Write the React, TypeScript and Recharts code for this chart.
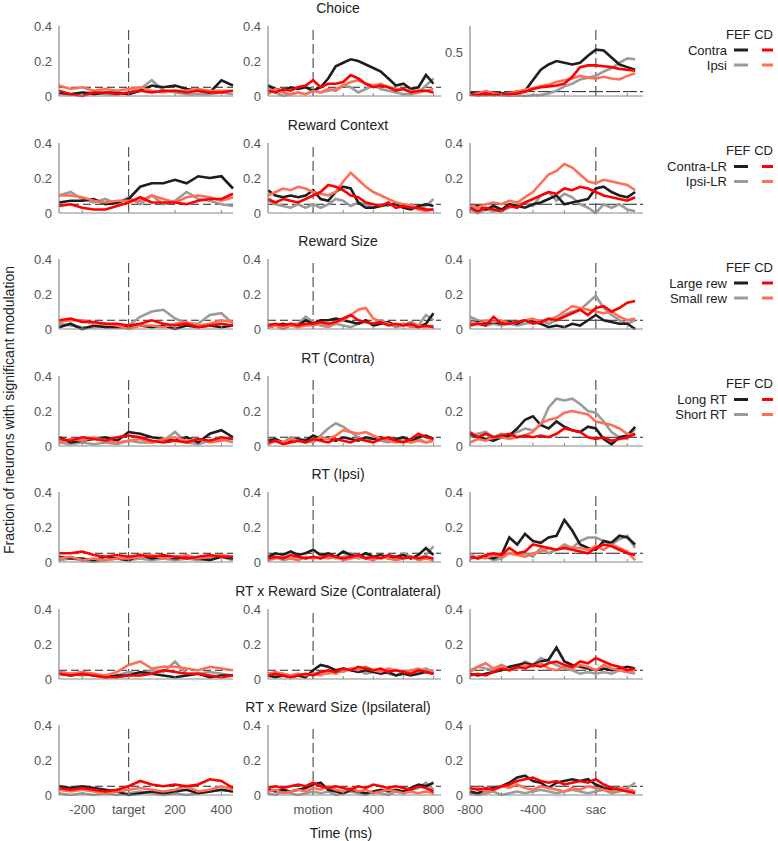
import React from 'react';
import { LineChart, Line, XAxis, YAxis, ReferenceLine } from 'recharts';

// ---------- time grids (ms) ----------
const T_TARGET = [-300, -250, -200, -150, -100, -50, 0, 50, 100, 150, 200, 250, 300, 350, 400, 450];
const T_MOTION = [-300, -250, -200, -150, -100, -50, 0, 50, 100, 150, 200, 250, 300, 350, 400, 450, 500, 550, 600, 650, 700, 750, 800];
const T_SAC = [-800, -750, -700, -650, -600, -550, -500, -450, -400, -350, -300, -250, -200, -150, -100, -50, 0, 50, 100, 150, 200, 250];

const ROW_TITLES = ['Choice', 'Reward Context', 'Reward Size', 'RT (Contra)', 'RT (Ipsi)', 'RT x Reward Size (Contralateral)', 'RT x Reward Size (Ipsilateral)'];
const LEGEND_LABELS = [['Contra', 'Ipsi'], ['Contra-LR', 'Ipsi-LR'], ['Large rew', 'Small rew'], ['Long RT', 'Short RT']];
const TICKS_TARGET = [-200, 0, 200, 400];
const TICKS_MOTION = [0, 200, 400, 600, 800];
const TICKS_SAC = [-800, -600, -400, -200, 0, 200];

// ---------- Choice ----------
const choiceTgtFefA = [0.02, 0.01, 0.02, 0.01, 0.02, 0.02, 0.01, 0.03, 0.06, 0.05, 0.06, 0.04, 0.03, 0.02, 0.09, 0.06];
const choiceTgtFefB = [0.01, 0.01, 0.02, 0.02, 0.01, 0.01, 0.02, 0.04, 0.09, 0.03, 0.02, 0.01, 0.01, 0.01, 0.02, 0.01];
const choiceTgtCdA = [0.03, 0.01, 0.0, 0.02, 0.02, 0.01, 0.02, 0.03, 0.02, 0.03, 0.03, 0.02, 0.03, 0.02, 0.02, 0.03];
const choiceTgtCdB = [0.06, 0.04, 0.05, 0.03, 0.04, 0.03, 0.04, 0.05, 0.03, 0.02, 0.03, 0.03, 0.04, 0.03, 0.03, 0.03];
const choiceMotFefA = [0.06, 0.04, 0.03, 0.05, 0.04, 0.05, 0.03, 0.05, 0.1, 0.17, 0.19, 0.21, 0.2, 0.18, 0.16, 0.14, 0.1, 0.06, 0.07, 0.04, 0.05, 0.12, 0.07];
const choiceMotFefB = [0.05, 0.02, 0.0, 0.01, 0.02, 0.01, 0.03, 0.02, 0.03, 0.04, 0.06, 0.05, 0.02, 0.04, 0.06, 0.04, 0.03, 0.02, 0.01, 0.01, 0.02, 0.06, 0.1];
const choiceMotCdA = [0.03, 0.02, 0.04, 0.03, 0.05, 0.06, 0.09, 0.05, 0.07, 0.07, 0.08, 0.12, 0.1, 0.07, 0.05, 0.06, 0.05, 0.03, 0.04, 0.02, 0.03, 0.03, 0.02];
const choiceMotCdB = [0.01, 0.04, 0.02, 0.01, 0.02, 0.01, 0.03, 0.02, 0.04, 0.03, 0.06, 0.08, 0.09, 0.07, 0.06, 0.07, 0.05, 0.04, 0.04, 0.03, 0.02, 0.03, 0.04];
const choiceSacFefA = [0.03, 0.03, 0.02, 0.03, 0.03, 0.03, 0.05, 0.06, 0.18, 0.3, 0.36, 0.4, 0.38, 0.36, 0.38, 0.46, 0.53, 0.52, 0.44, 0.36, 0.33, 0.3];
const choiceSacFefB = [0.02, 0.01, 0.01, 0.02, 0.01, 0.0, 0.01, 0.0, 0.01, 0.01, 0.03, 0.06, 0.11, 0.14, 0.19, 0.21, 0.23, 0.28, 0.32, 0.38, 0.43, 0.42];
const choiceSacCdA = [0.02, 0.01, 0.03, 0.01, 0.02, 0.02, 0.03, 0.05, 0.08, 0.1, 0.11, 0.12, 0.14, 0.22, 0.33, 0.35, 0.35, 0.34, 0.33, 0.31, 0.3, 0.29];
const choiceSacCdB = [0.01, 0.03, 0.06, 0.03, 0.02, 0.03, 0.05, 0.07, 0.09, 0.11, 0.13, 0.16, 0.18, 0.2, 0.23, 0.21, 0.2, 0.22, 0.2, 0.19, 0.23, 0.26];

// ---------- Reward Context ----------
const contextTgtFefA = [0.06, 0.07, 0.07, 0.08, 0.05, 0.06, 0.08, 0.15, 0.17, 0.17, 0.19, 0.17, 0.21, 0.2, 0.21, 0.14];
const contextTgtFefB = [0.1, 0.12, 0.08, 0.06, 0.08, 0.05, 0.09, 0.05, 0.1, 0.05, 0.07, 0.12, 0.08, 0.07, 0.05, 0.04];
const contextTgtCdA = [0.04, 0.05, 0.03, 0.02, 0.02, 0.04, 0.06, 0.09, 0.06, 0.06, 0.06, 0.05, 0.07, 0.08, 0.08, 0.11];
const contextTgtCdB = [0.1, 0.1, 0.09, 0.07, 0.06, 0.07, 0.07, 0.07, 0.1, 0.08, 0.06, 0.09, 0.1, 0.09, 0.07, 0.09];
const contextMotFefA = [0.13, 0.1, 0.09, 0.1, 0.09, 0.1, 0.13, 0.08, 0.07, 0.12, 0.15, 0.14, 0.06, 0.03, 0.03, 0.04, 0.05, 0.05, 0.03, 0.02, 0.04, 0.05, 0.04];
const contextMotFefB = [0.07, 0.05, 0.04, 0.03, 0.05, 0.03, 0.05, 0.03, 0.05, 0.08, 0.07, 0.04, 0.06, 0.05, 0.03, 0.05, 0.04, 0.06, 0.03, 0.05, 0.02, 0.04, 0.08];
const contextMotCdA = [0.08, 0.06, 0.08, 0.07, 0.06, 0.08, 0.1, 0.12, 0.16, 0.15, 0.13, 0.1, 0.09, 0.06, 0.05, 0.04, 0.06, 0.03, 0.04, 0.03, 0.03, 0.02, 0.02];
const contextMotCdB = [0.1, 0.12, 0.14, 0.13, 0.15, 0.14, 0.12, 0.11, 0.1, 0.12, 0.18, 0.23, 0.19, 0.15, 0.12, 0.1, 0.08, 0.06, 0.05, 0.04, 0.02, 0.01, 0.02];
const contextSacFefA = [0.03, 0.04, 0.02, 0.04, 0.02, 0.05, 0.04, 0.03, 0.05, 0.06, 0.08, 0.1, 0.05, 0.06, 0.07, 0.08, 0.14, 0.15, 0.12, 0.1, 0.09, 0.12];
const contextSacFefB = [0.02, 0.0, 0.02, 0.01, 0.02, 0.03, 0.05, 0.06, 0.04, 0.1, 0.12, 0.07, 0.11, 0.09, 0.05, 0.03, 0.0, 0.05, 0.03, 0.05, 0.02, 0.01];
const contextSacCdA = [0.03, 0.01, 0.03, 0.02, 0.01, 0.04, 0.03, 0.06, 0.08, 0.1, 0.12, 0.11, 0.14, 0.13, 0.15, 0.14, 0.12, 0.1, 0.09, 0.08, 0.07, 0.09];
const contextSacCdB = [0.04, 0.03, 0.05, 0.06, 0.05, 0.07, 0.06, 0.09, 0.12, 0.17, 0.22, 0.24, 0.28, 0.26, 0.22, 0.18, 0.17, 0.19, 0.18, 0.17, 0.16, 0.13];

// ---------- Reward Size ----------
const sizeTgtFefA = [0.01, 0.03, 0.0, 0.02, 0.01, 0.01, 0.01, 0.02, 0.01, 0.02, 0.0, 0.02, 0.01, 0.02, 0.01, 0.02];
const sizeTgtFefB = [0.03, 0.02, 0.01, 0.01, 0.02, 0.02, 0.02, 0.07, 0.1, 0.11, 0.06, 0.03, 0.03, 0.08, 0.09, 0.03];
const sizeTgtCdA = [0.05, 0.06, 0.04, 0.04, 0.03, 0.03, 0.02, 0.03, 0.05, 0.03, 0.02, 0.03, 0.01, 0.02, 0.03, 0.02];
const sizeTgtCdB = [0.04, 0.05, 0.05, 0.03, 0.03, 0.02, 0.0, 0.02, 0.02, 0.01, 0.03, 0.04, 0.02, 0.03, 0.05, 0.04];
const sizeMotFefA = [0.01, 0.02, 0.03, 0.02, 0.02, 0.05, 0.03, 0.05, 0.05, 0.06, 0.05, 0.04, 0.03, 0.05, 0.02, 0.03, 0.04, 0.02, 0.03, 0.02, 0.01, 0.03, 0.09];
const sizeMotFefB = [0.03, 0.02, 0.02, 0.03, 0.03, 0.07, 0.04, 0.02, 0.01, 0.03, 0.02, 0.01, 0.03, 0.04, 0.03, 0.05, 0.03, 0.01, 0.02, 0.04, 0.02, 0.08, 0.05];
const sizeMotCdA = [0.02, 0.03, 0.02, 0.03, 0.02, 0.03, 0.03, 0.04, 0.03, 0.04, 0.06, 0.08, 0.05, 0.04, 0.03, 0.04, 0.02, 0.03, 0.02, 0.03, 0.01, 0.02, 0.01];
const sizeMotCdB = [0.01, 0.02, 0.0, 0.02, 0.01, 0.02, 0.02, 0.03, 0.02, 0.04, 0.05, 0.08, 0.11, 0.12, 0.06, 0.04, 0.03, 0.02, 0.03, 0.01, 0.02, 0.01, 0.02];
const sizeSacFefA = [0.03, 0.04, 0.03, 0.04, 0.03, 0.04, 0.03, 0.05, 0.04, 0.03, 0.01, 0.02, 0.01, 0.03, 0.02, 0.05, 0.08, 0.05, 0.04, 0.03, 0.03, 0.0];
const sizeSacFefB = [0.07, 0.05, 0.02, 0.03, 0.02, 0.03, 0.02, 0.03, 0.04, 0.05, 0.03, 0.05, 0.08, 0.1, 0.11, 0.15, 0.19, 0.12, 0.08, 0.05, 0.03, 0.05];
const sizeSacCdA = [0.02, 0.03, 0.02, 0.07, 0.03, 0.03, 0.04, 0.05, 0.03, 0.04, 0.06, 0.05, 0.07, 0.09, 0.11, 0.08, 0.12, 0.13, 0.1, 0.12, 0.15, 0.16];
const sizeSacCdB = [0.04, 0.03, 0.05, 0.04, 0.05, 0.03, 0.04, 0.05, 0.06, 0.04, 0.05, 0.07, 0.1, 0.13, 0.12, 0.11, 0.1, 0.09, 0.1, 0.07, 0.05, 0.06];

// ---------- RT (Contra) ----------
const rtContraTgtFefA = [0.05, 0.02, 0.03, 0.04, 0.05, 0.03, 0.08, 0.07, 0.05, 0.04, 0.03, 0.05, 0.02, 0.07, 0.09, 0.05];
const rtContraTgtFefB = [0.02, 0.01, 0.02, 0.01, 0.02, 0.01, 0.03, 0.02, 0.02, 0.03, 0.08, 0.02, 0.01, 0.03, 0.04, 0.02];
const rtContraTgtCdA = [0.04, 0.03, 0.05, 0.04, 0.03, 0.05, 0.06, 0.05, 0.03, 0.02, 0.03, 0.02, 0.04, 0.03, 0.05, 0.04];
const rtContraTgtCdB = [0.02, 0.04, 0.03, 0.05, 0.03, 0.02, 0.03, 0.04, 0.02, 0.04, 0.05, 0.03, 0.04, 0.02, 0.03, 0.04];
const rtContraMotFefA = [0.03, 0.04, 0.02, 0.03, 0.04, 0.03, 0.06, 0.04, 0.05, 0.03, 0.05, 0.04, 0.03, 0.05, 0.04, 0.05, 0.03, 0.04, 0.05, 0.03, 0.05, 0.06, 0.04];
const rtContraMotFefB = [0.04, 0.03, 0.02, 0.05, 0.03, 0.04, 0.02, 0.06, 0.1, 0.13, 0.11, 0.08, 0.05, 0.03, 0.04, 0.03, 0.02, 0.04, 0.03, 0.02, 0.04, 0.02, 0.03];
const rtContraMotCdA = [0.02, 0.03, 0.01, 0.02, 0.03, 0.02, 0.04, 0.03, 0.02, 0.04, 0.03, 0.02, 0.04, 0.03, 0.02, 0.04, 0.05, 0.03, 0.02, 0.04, 0.07, 0.05, 0.04];
const rtContraMotCdB = [0.01, 0.03, 0.02, 0.04, 0.03, 0.02, 0.03, 0.05, 0.04, 0.06, 0.09, 0.08, 0.07, 0.08, 0.06, 0.04, 0.03, 0.02, 0.03, 0.02, 0.03, 0.02, 0.03];
const rtContraSacFefA = [0.07, 0.05, 0.04, 0.03, 0.05, 0.06, 0.1, 0.15, 0.17, 0.12, 0.1, 0.14, 0.11, 0.09, 0.08, 0.11, 0.1, 0.04, 0.01, 0.05, 0.06, 0.11];
const rtContraSacFefB = [0.05, 0.07, 0.08, 0.05, 0.07, 0.05, 0.08, 0.1, 0.09, 0.12, 0.22, 0.27, 0.26, 0.27, 0.24, 0.2, 0.19, 0.14, 0.08, 0.05, 0.04, 0.1];
const rtContraSacCdA = [0.08, 0.05, 0.07, 0.05, 0.06, 0.07, 0.05, 0.06, 0.05, 0.06, 0.05, 0.07, 0.1, 0.09, 0.08, 0.05, 0.04, 0.05, 0.03, 0.04, 0.05, 0.07];
const rtContraSacCdB = [0.02, 0.04, 0.03, 0.05, 0.05, 0.04, 0.05, 0.06, 0.08, 0.13, 0.15, 0.16, 0.19, 0.2, 0.19, 0.18, 0.14, 0.13, 0.12, 0.1, 0.07, 0.06];

// ---------- RT (Ipsi) ----------
const rtIpsiTgtFefA = [0.03, 0.02, 0.02, 0.01, 0.03, 0.02, 0.01, 0.04, 0.02, 0.03, 0.02, 0.03, 0.02, 0.01, 0.03, 0.02];
const rtIpsiTgtFefB = [0.01, 0.02, 0.01, 0.0, 0.01, 0.02, 0.01, 0.02, 0.01, 0.02, 0.01, 0.02, 0.01, 0.02, 0.03, 0.01];
const rtIpsiTgtCdA = [0.05, 0.05, 0.06, 0.04, 0.03, 0.04, 0.03, 0.04, 0.03, 0.04, 0.03, 0.02, 0.03, 0.04, 0.03, 0.03];
const rtIpsiTgtCdB = [0.02, 0.03, 0.01, 0.02, 0.01, 0.02, 0.02, 0.03, 0.04, 0.02, 0.03, 0.04, 0.02, 0.03, 0.04, 0.03];
const rtIpsiMotFefA = [0.03, 0.05, 0.04, 0.06, 0.04, 0.05, 0.07, 0.04, 0.05, 0.03, 0.06, 0.04, 0.03, 0.05, 0.03, 0.04, 0.02, 0.03, 0.04, 0.02, 0.04, 0.08, 0.04];
const rtIpsiMotFefB = [0.02, 0.03, 0.01, 0.02, 0.03, 0.02, 0.03, 0.02, 0.04, 0.02, 0.03, 0.05, 0.02, 0.03, 0.02, 0.04, 0.03, 0.02, 0.05, 0.03, 0.02, 0.04, 0.09];
const rtIpsiMotCdA = [0.02, 0.03, 0.02, 0.04, 0.03, 0.02, 0.03, 0.02, 0.04, 0.03, 0.02, 0.03, 0.04, 0.02, 0.03, 0.02, 0.04, 0.03, 0.02, 0.03, 0.02, 0.03, 0.02];
const rtIpsiMotCdB = [0.01, 0.02, 0.03, 0.02, 0.01, 0.03, 0.02, 0.03, 0.02, 0.03, 0.01, 0.02, 0.03, 0.02, 0.01, 0.03, 0.02, 0.01, 0.02, 0.03, 0.01, 0.02, 0.01];
const rtIpsiSacFefA = [0.02, 0.03, 0.03, 0.02, 0.04, 0.14, 0.1, 0.16, 0.12, 0.11, 0.14, 0.15, 0.24, 0.18, 0.1, 0.08, 0.07, 0.12, 0.11, 0.15, 0.14, 0.1];
const rtIpsiSacFefB = [0.05, 0.02, 0.03, 0.01, 0.02, 0.05, 0.04, 0.05, 0.03, 0.08, 0.05, 0.07, 0.1, 0.08, 0.12, 0.14, 0.14, 0.12, 0.1, 0.13, 0.15, 0.08];
const rtIpsiSacCdA = [0.03, 0.02, 0.04, 0.05, 0.04, 0.08, 0.05, 0.06, 0.1, 0.09, 0.08, 0.07, 0.08, 0.07, 0.06, 0.05, 0.08, 0.1, 0.09, 0.07, 0.05, 0.04];
const rtIpsiSacCdB = [0.02, 0.03, 0.02, 0.04, 0.03, 0.05, 0.04, 0.03, 0.05, 0.06, 0.08, 0.07, 0.09, 0.08, 0.08, 0.07, 0.09, 0.07, 0.1, 0.08, 0.06, 0.01];

// ---------- RT x Reward Size (Contralateral) ----------
const rtxContraTgtFefA = [0.03, 0.02, 0.03, 0.02, 0.01, 0.02, 0.02, 0.04, 0.03, 0.02, 0.01, 0.02, 0.03, 0.01, 0.02, 0.02];
const rtxContraTgtFefB = [0.04, 0.03, 0.02, 0.03, 0.01, 0.02, 0.04, 0.03, 0.05, 0.04, 0.1, 0.03, 0.03, 0.04, 0.03, 0.02];
const rtxContraTgtCdA = [0.03, 0.02, 0.03, 0.02, 0.01, 0.01, 0.02, 0.02, 0.03, 0.05, 0.04, 0.03, 0.03, 0.02, 0.01, 0.02];
const rtxContraTgtCdB = [0.04, 0.03, 0.04, 0.03, 0.02, 0.04, 0.08, 0.1, 0.06, 0.07, 0.07, 0.06, 0.05, 0.07, 0.06, 0.05];
const rtxContraMotFefA = [0.02, 0.01, 0.02, 0.01, 0.02, 0.01, 0.05, 0.08, 0.07, 0.05, 0.06, 0.05, 0.04, 0.05, 0.04, 0.03, 0.04, 0.02, 0.03, 0.02, 0.03, 0.04, 0.03];
const rtxContraMotFefB = [0.03, 0.02, 0.03, 0.02, 0.03, 0.02, 0.03, 0.04, 0.03, 0.05, 0.04, 0.06, 0.05, 0.03, 0.04, 0.05, 0.03, 0.02, 0.04, 0.03, 0.05, 0.06, 0.04];
const rtxContraMotCdA = [0.02, 0.03, 0.02, 0.01, 0.02, 0.03, 0.02, 0.04, 0.05, 0.04, 0.06, 0.05, 0.07, 0.06, 0.05, 0.06, 0.04, 0.05, 0.04, 0.03, 0.05, 0.04, 0.03];
const rtxContraMotCdB = [0.03, 0.04, 0.03, 0.02, 0.03, 0.02, 0.03, 0.02, 0.04, 0.03, 0.05, 0.06, 0.05, 0.07, 0.05, 0.04, 0.06, 0.05, 0.04, 0.05, 0.06, 0.04, 0.05];
const rtxContraSacFefA = [0.03, 0.02, 0.03, 0.04, 0.05, 0.07, 0.08, 0.09, 0.08, 0.1, 0.11, 0.18, 0.1, 0.08, 0.07, 0.06, 0.05, 0.06, 0.05, 0.06, 0.07, 0.06];
const rtxContraSacFefB = [0.05, 0.07, 0.06, 0.05, 0.08, 0.06, 0.07, 0.1, 0.08, 0.12, 0.1, 0.08, 0.06, 0.05, 0.03, 0.04, 0.03, 0.04, 0.03, 0.05, 0.04, 0.03];
const rtxContraSacCdA = [0.02, 0.03, 0.02, 0.04, 0.06, 0.05, 0.07, 0.06, 0.08, 0.07, 0.09, 0.1, 0.08, 0.07, 0.1, 0.09, 0.12, 0.1, 0.08, 0.07, 0.05, 0.06];
const rtxContraSacCdB = [0.04, 0.07, 0.09, 0.06, 0.08, 0.05, 0.06, 0.08, 0.07, 0.09, 0.06, 0.05, 0.07, 0.06, 0.08, 0.07, 0.05, 0.08, 0.06, 0.05, 0.04, 0.05];

// ---------- RT x Reward Size (Ipsilateral) ----------
const rtxIpsiTgtFefA = [0.05, 0.04, 0.05, 0.04, 0.03, 0.02, 0.0, 0.01, 0.02, 0.01, 0.02, 0.03, 0.01, 0.02, 0.03, 0.02];
const rtxIpsiTgtFefB = [0.01, 0.0, 0.01, 0.0, 0.01, 0.0, 0.01, 0.02, 0.01, 0.0, 0.01, 0.0, 0.01, 0.02, 0.03, 0.02];
const rtxIpsiTgtCdA = [0.04, 0.03, 0.04, 0.03, 0.02, 0.03, 0.05, 0.08, 0.06, 0.05, 0.06, 0.05, 0.06, 0.09, 0.08, 0.04];
const rtxIpsiTgtCdB = [0.03, 0.02, 0.03, 0.02, 0.01, 0.02, 0.03, 0.04, 0.03, 0.02, 0.03, 0.05, 0.02, 0.03, 0.05, 0.03];
const rtxIpsiMotFefA = [0.03, 0.02, 0.03, 0.02, 0.03, 0.04, 0.06, 0.07, 0.03, 0.02, 0.01, 0.03, 0.02, 0.01, 0.02, 0.03, 0.02, 0.03, 0.02, 0.04, 0.06, 0.05, 0.07];
const rtxIpsiMotFefB = [0.01, 0.0, 0.02, 0.01, 0.0, 0.01, 0.02, 0.01, 0.02, 0.0, 0.01, 0.02, 0.01, 0.0, 0.02, 0.01, 0.0, 0.02, 0.01, 0.03, 0.04, 0.07, 0.03];
const rtxIpsiMotCdA = [0.04, 0.05, 0.04, 0.05, 0.06, 0.05, 0.07, 0.05, 0.04, 0.05, 0.04, 0.03, 0.05, 0.04, 0.06, 0.05, 0.04, 0.05, 0.04, 0.03, 0.05, 0.04, 0.02];
const rtxIpsiMotCdB = [0.02, 0.03, 0.01, 0.02, 0.03, 0.02, 0.04, 0.03, 0.05, 0.03, 0.02, 0.04, 0.02, 0.03, 0.01, 0.02, 0.03, 0.02, 0.01, 0.02, 0.01, 0.02, 0.01];
const rtxIpsiSacFefA = [0.02, 0.01, 0.03, 0.04, 0.05, 0.07, 0.1, 0.11, 0.08, 0.07, 0.04, 0.07, 0.08, 0.09, 0.08, 0.09, 0.06, 0.04, 0.03, 0.04, 0.03, 0.02];
const rtxIpsiSacFefB = [0.01, 0.0, 0.01, 0.02, 0.0, 0.01, 0.02, 0.01, 0.02, 0.03, 0.02, 0.01, 0.02, 0.03, 0.02, 0.01, 0.02, 0.03, 0.01, 0.02, 0.04, 0.07];
const rtxIpsiSacCdA = [0.04, 0.03, 0.04, 0.03, 0.05, 0.06, 0.08, 0.09, 0.1, 0.08, 0.07, 0.08, 0.06, 0.07, 0.08, 0.07, 0.09, 0.06, 0.04, 0.03, 0.02, 0.01];
const rtxIpsiSacCdB = [0.03, 0.04, 0.02, 0.03, 0.05, 0.04, 0.06, 0.04, 0.03, 0.05, 0.04, 0.03, 0.02, 0.04, 0.03, 0.05, 0.04, 0.03, 0.02, 0.04, 0.03, 0.02];

// series per row -> per column -> [FEF A, FEF B, CD A, CD B]
const ROWS = [
  [[choiceTgtFefA, choiceTgtFefB, choiceTgtCdA, choiceTgtCdB], [choiceMotFefA, choiceMotFefB, choiceMotCdA, choiceMotCdB], [choiceSacFefA, choiceSacFefB, choiceSacCdA, choiceSacCdB]],
  [[contextTgtFefA, contextTgtFefB, contextTgtCdA, contextTgtCdB], [contextMotFefA, contextMotFefB, contextMotCdA, contextMotCdB], [contextSacFefA, contextSacFefB, contextSacCdA, contextSacCdB]],
  [[sizeTgtFefA, sizeTgtFefB, sizeTgtCdA, sizeTgtCdB], [sizeMotFefA, sizeMotFefB, sizeMotCdA, sizeMotCdB], [sizeSacFefA, sizeSacFefB, sizeSacCdA, sizeSacCdB]],
  [[rtContraTgtFefA, rtContraTgtFefB, rtContraTgtCdA, rtContraTgtCdB], [rtContraMotFefA, rtContraMotFefB, rtContraMotCdA, rtContraMotCdB], [rtContraSacFefA, rtContraSacFefB, rtContraSacCdA, rtContraSacCdB]],
  [[rtIpsiTgtFefA, rtIpsiTgtFefB, rtIpsiTgtCdA, rtIpsiTgtCdB], [rtIpsiMotFefA, rtIpsiMotFefB, rtIpsiMotCdA, rtIpsiMotCdB], [rtIpsiSacFefA, rtIpsiSacFefB, rtIpsiSacCdA, rtIpsiSacCdB]],
  [[rtxContraTgtFefA, rtxContraTgtFefB, rtxContraTgtCdA, rtxContraTgtCdB], [rtxContraMotFefA, rtxContraMotFefB, rtxContraMotCdA, rtxContraMotCdB], [rtxContraSacFefA, rtxContraSacFefB, rtxContraSacCdA, rtxContraSacCdB]],
  [[rtxIpsiTgtFefA, rtxIpsiTgtFefB, rtxIpsiTgtCdA, rtxIpsiTgtCdB], [rtxIpsiMotFefA, rtxIpsiMotFefB, rtxIpsiMotCdA, rtxIpsiMotCdB], [rtxIpsiSacFefA, rtxIpsiSacFefB, rtxIpsiSacCdA, rtxIpsiSacCdB]],
];

// ---------- layout ----------
const FONT = "'Liberation Sans', Arial, Helvetica, sans-serif";
const C_FEF_A = '#1e1e1e';
const C_FEF_B = '#9b9b9b';
const C_CD_A = '#ff0000';
const C_CD_B = '#ff6e55';
const AXIS_C = '#8a8a8a';
const TICK_C = '#555555';
const PLOT_H = 70;
const MT = 10;
const YW = 40;
const MR = 6;
const XH = 24;
const ROW_STEP = 116.5;
const FIRST_TOP = 26;

const COLS = [
  { plotLeft: 59, plotW: 174, times: T_TARGET, domain: [-300, 450], ticks: TICKS_TARGET, fmt: (v: number) => (v === 0 ? 'target' : String(v)) },
  { plotLeft: 268, plotW: 173, times: T_MOTION, domain: [-300, 850], ticks: TICKS_MOTION, fmt: (v: number) => (v === 0 ? 'motion' : v === 400 || v === 800 ? String(v) : '') },
  { plotLeft: 470, plotW: 173, times: T_SAC, domain: [-800, 300], ticks: TICKS_SAC, fmt: (v: number) => (v === 0 ? 'sac' : v === -800 || v === -400 ? String(v) : '') },
];

function Panel({ row, col }: { row: number; col: number }) {
  const c = COLS[col];
  const s = ROWS[row][col];
  const data = c.times.map((t, i) => ({ t, fa: s[0][i], fb: s[1][i], ca: s[2][i], cb: s[3][i] }));
  const big = row === 0 && col === 2;
  const yMax = big ? 0.8 : 0.4;
  const yTicks = big ? [0, 0.5] : [0, 0.2, 0.4];
  const top = FIRST_TOP + ROW_STEP * row - MT;
  const left = c.plotLeft - YW;
  const bottomRow = row === ROWS.length - 1;
  const lineProps = { type: 'linear' as const, dot: false, strokeWidth: 2.6, isAnimationActive: false, activeDot: false };
  return (
    <div style={{ position: 'absolute', left, top }}>
      <LineChart width={YW + c.plotW + MR} height={MT + PLOT_H + XH} data={data} margin={{ top: MT, right: MR, bottom: 0, left: 0 }} style={{ fontFamily: FONT }}>
        <XAxis
          dataKey="t"
          type="number"
          domain={c.domain}
          ticks={c.ticks}
          interval={0}
          height={XH}
          tickSize={-3}
          tickMargin={13}
          axisLine={{ stroke: AXIS_C, strokeWidth: 1.2 }}
          tickLine={{ stroke: AXIS_C }}
          tick={{ fill: TICK_C, fontSize: 13 }}
          tickFormatter={(v: number) => (bottomRow ? c.fmt(v) : '')}
        />
        <YAxis
          domain={[0, yMax]}
          ticks={yTicks}
          interval={0}
          width={YW}
          tickSize={0}
          tickMargin={7}
          tickLine={false}
          axisLine={{ stroke: AXIS_C, strokeWidth: 1.2 }}
          tick={{ fill: TICK_C, fontSize: 13 }}
        />
        <ReferenceLine y={0.05} stroke="#222" strokeWidth={1} strokeDasharray={col === 2 ? '14 3' : '8 4'} />
        <ReferenceLine x={0} stroke="#555" strokeWidth={1.2} strokeDasharray="10 4" />
        <Line {...lineProps} dataKey="fb" stroke={C_FEF_B} />
        <Line {...lineProps} dataKey="fa" stroke={C_FEF_A} />
        <Line {...lineProps} dataKey="cb" stroke={C_CD_B} />
        <Line {...lineProps} dataKey="ca" stroke={C_CD_A} />
      </LineChart>
    </div>
  );
}

function Overlay() {
  return (
    <svg width={778} height={841} style={{ position: 'absolute', left: 0, top: 0, pointerEvents: 'none', fontFamily: FONT }}>
      {ROW_TITLES.map((t, i) => (
        <text key={t} x={338} y={13 + ROW_STEP * i} textAnchor="middle" fontSize={14} fill="#222">
          {t}
        </text>
      ))}
      <text x={341} y={838} textAnchor="middle" fontSize={14} fill="#222">
        Time (ms)
      </text>
      <text x={0} y={0} transform="translate(14,410) rotate(-90)" textAnchor="middle" fontSize={14} fill="#222">
        Fraction of neurons with significant modulation
      </text>
      {LEGEND_LABELS.map((labels, i) => {
        const b = ROW_STEP * i;
        return (
          <g key={i}>
            <text x={726} y={38.5 + b} fontSize={13} fill="#222">
              FEF CD
            </text>
            <text x={727} y={54.5 + b} textAnchor="end" fontSize={13} fill="#222">
              {labels[0]}
            </text>
            <text x={727} y={69.5 + b} textAnchor="end" fontSize={13} fill="#222">
              {labels[1]}
            </text>
            <line x1={734} x2={748} y1={50 + b} y2={50 + b} stroke={C_FEF_A} strokeWidth={3} />
            <line x1={762} x2={773} y1={50 + b} y2={50 + b} stroke={C_CD_A} strokeWidth={3} />
            <line x1={734} x2={748} y1={65 + b} y2={65 + b} stroke={C_FEF_B} strokeWidth={3} />
            <line x1={762} x2={773} y1={65 + b} y2={65 + b} stroke={C_CD_B} strokeWidth={3} />
          </g>
        );
      })}
    </svg>
  );
}

export default function App() {
  return (
    <div style={{ position: 'absolute', left: 0, top: 0, width: 778, height: 841, background: '#fff', fontFamily: FONT }}>
      {ROWS.map((_, r) => COLS.map((__, c) => <Panel key={`${r}-${c}`} row={r} col={c} />))}
      <Overlay />
    </div>
  );
}
